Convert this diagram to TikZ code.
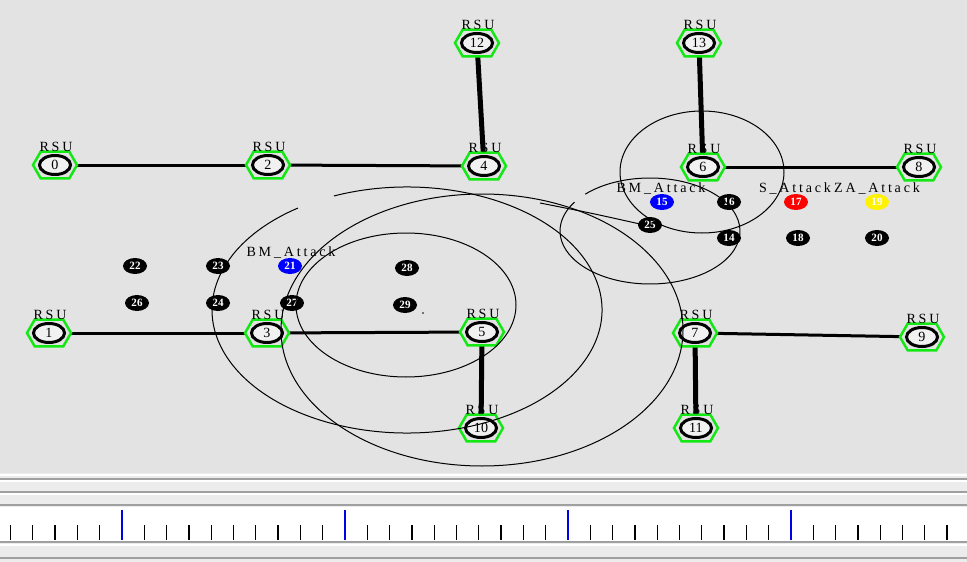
\documentclass[tikz,border=0pt]{standalone}
\usepackage{fontspec}
\setmainfont{Liberation Serif}
\newfontfamily\namfont[LetterSpace=20]{Liberation Serif}
\usetikzlibrary{shapes.symbols,shapes.geometric,backgrounds}
\definecolor{canvas}{RGB}{227,227,227}
\definecolor{panel}{RGB}{236,236,236}
\definecolor{panelline}{RGB}{160,160,160}
\definecolor{hexgreen}{RGB}{20,232,20}
\definecolor{tickblue}{RGB}{0,0,230}
\tikzset{
 rsuhex/.style={signal, signal to=east and west, signal pointer angle=120, draw=hexgreen, line width=0.075cm, fill=canvas, minimum width=1.32cm, minimum height=0.8cm, inner sep=0pt, outer sep=0pt},
 rsucore/.style={ellipse, draw=black, line width=0.09cm, fill=canvas!50!white, minimum width=0.93cm, minimum height=0.57cm, inner sep=0pt, font=\fontsize{12}{12}\selectfont},
 rsulbl/.style={font=\namfont\fontsize{12}{12}\selectfont, inner sep=0pt},
 atklbl/.style={font=\namfont\fontsize{12}{12}\selectfont, inner sep=0pt},
 veh/.style={ellipse, fill=black, minimum width=0.72cm, minimum height=0.48cm, inner sep=0pt, text=white, font=\fontsize{9.5}{9.5}\selectfont\bfseries},
 hlink/.style={line width=0.09cm},
 vlink/.style={line width=0.15cm},
 ring/.style={line width=0.03cm, black},
 pline/.style={panelline, line width=0.04cm},
 wline/.style={white, line width=0.04cm},
}
\begin{document}
\begin{tikzpicture}[x=0.03cm,y=-0.03cm]
\useasboundingbox (0,0) rectangle (967,562);
\begin{pgfonlayer}{background}
\fill[canvas] (0,0) rectangle (967,473);
\fill[panel] (0,473) rectangle (967,562);
\end{pgfonlayer}
% bottom panel
\draw[wline] (0,475) -- (967,475);
\draw[pline] (0,479) -- (967,479);
\draw[wline] (0,481) -- (967,481);
\draw[pline] (0,492) -- (967,492);
\draw[wline] (0,494) -- (967,494);
\draw[pline] (0,505) -- (967,505);
\fill[white] (0,507) rectangle (967,541);
\draw[pline] (0,542) -- (967,542);
\draw[wline] (0,545) -- (967,545);
\draw[pline] (0,558) -- (967,558);
\foreach \k in {-5,...,37}{
  \pgfmathsetmacro\tx{122+22.3*\k}
  \pgfmathtruncatemacro\tm{mod(\k+50,10)}
  \ifnum\tm=0
    \draw[tickblue, line width=0.045cm] (\tx,510) -- (\tx,540);
  \else
    \draw[black, line width=0.04cm] (\tx,525) -- (\tx,540);
  \fi
}
% RSU nodes
\foreach \n/\x/\y in {0/55/165, 1/49/333, 2/268/165, 3/267/333, 4/484/166, 5/482/332, 6/703/167, 7/695/333, 8/919/167, 9/922/337, 10/481/428, 11/696/428, 12/477/43, 13/699/43}{
  \node[rsuhex] (h\n) at (\x,\y) {};
  \node[rsucore] (c\n) at (h\n) {\n};
  \node[rsulbl] (t\n) at (\x+1,\y-18) {RSU};
}
% links
\begin{pgfonlayer}{background}
\draw[hlink] (h0) -- (h2);
\draw[hlink] (h2) -- (h4);
\draw[hlink] (h1) -- (h3);
\draw[hlink] (h3) -- (h5);
\draw[hlink] (h6) -- (h8);
\draw[hlink] (h7) -- (h9);
\draw[vlink] (h12) -- (h4);
\draw[vlink] (h13) -- (h6);
\draw[vlink] (h5) -- (h10);
\draw[vlink] (h7) -- (h11);
\end{pgfonlayer}
% vehicles
\node[veh] (v14) at (729,238) {14};
\node[veh, fill=blue] (v15) at (662,202) {15};
\node[veh] (v16) at (729,202) {16};
\node[veh, fill=red] (v17) at (796,202) {17};
\node[veh] (v18) at (798,238) {18};
\node[veh, fill=yellow] (v19) at (877,202) {19};
\node[veh] (v20) at (877,238) {20};
\node[veh, fill=blue] (v21) at (290,266) {21};
\node[veh] (v22) at (135,266) {22};
\node[veh] (v23) at (218,266) {23};
\node[veh] (v24) at (218,303) {24};
\node[veh] (v25) at (650,225) {25};
\node[veh] (v26) at (137,303) {26};
\node[veh] (v27) at (292,303) {27};
\node[veh] (v28) at (407,268) {28};
\node[veh] (v29) at (405,305) {29};
\fill (423,313) circle [radius=0.8];
% attack labels
\node[atklbl] (a21) at (291,253) {BM\_Attack};
\node[atklbl] (a15) at (661,189) {BM\_Attack};
\node[atklbl] (a17) at (795,189) {S\_Attack};
\node[atklbl] (a19) at (877,189) {ZA\_Attack};
% range circles
\draw[ring] ([shift={(407,310)}]-112:195 and 123) arc[start angle=-112, end angle=236, x radius=195, y radius=123];
\draw[ring] (482,330) ellipse [x radius=201, y radius=136];
\draw[ring] (406,305) ellipse [x radius=110, y radius=72];
\draw[ring] (702,172) ellipse [x radius=82, y radius=61];
\draw[ring] ([shift={(650,231)}]-136:90 and 53) arc[start angle=-136, end angle=213, x radius=90, y radius=53];
\draw[ring] plot[smooth] coordinates {(540,203) (590,213) (640,224)};
\end{tikzpicture}
\end{document}
